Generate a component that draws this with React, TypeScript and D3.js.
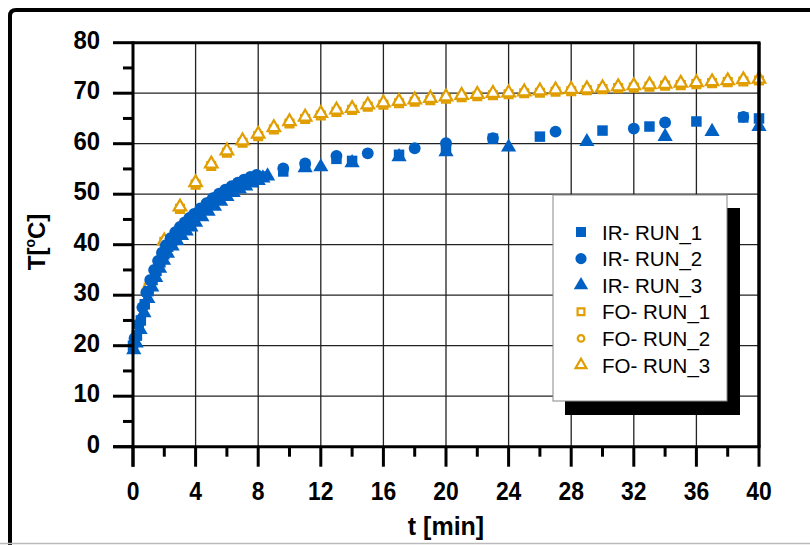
import React from "react";
import * as d3 from "d3";

// ---------- DATA ----------
const X_TICKS = [0, 4, 8, 12, 16, 20, 24, 28, 32, 36, 40];
const Y_TICKS = [0, 10, 20, 30, 40, 50, 60, 70, 80];

const IR_RUN_1_T = [0, 0.25, 0.5, 0.75, 1.0, 1.25, 1.5, 1.75, 2.0, 2.25, 2.5, 2.75, 3.0, 3.3, 3.6, 3.9, 4.2, 4.6, 5.0, 5.4, 5.8, 6.2, 6.6, 7.0, 7.4, 7.8, 8.2, 9.6, 11, 13, 14, 17, 20, 23, 26, 30, 33, 36, 39, 40];
const IR_RUN_1_V = [20, 22, 25, 28.2, 30.8, 33, 34.8, 36.5, 38.1, 39.6, 40.8, 41.8, 42.7, 43.6, 44.5, 45.3, 46.1, 47.1, 48.3, 49.3, 50.1, 50.9, 51.5, 52.2, 52.7, 53.1, 53.5, 54.5, 55.6, 57.0, 56.6, 57.8, 59.4, 61.0, 61.4, 62.6, 63.4, 64.4, 65.2, 65.0];

const IR_RUN_2_T = [0.1, 0.35, 0.6, 0.85, 1.1, 1.35, 1.6, 1.85, 2.1, 2.4, 2.7, 3.0, 3.3, 3.6, 3.9, 4.3, 4.7, 5.1, 5.5, 5.9, 6.3, 6.7, 7.1, 7.5, 7.9, 9.6, 11, 13, 15, 18, 20, 23, 27, 32, 34, 39];
const IR_RUN_2_V = [21.5, 24.2, 27.6, 30.5, 33, 35, 36.8, 38.4, 39.9, 41.3, 42.5, 43.5, 44.4, 45.3, 46.1, 47.2, 48.2, 49.2, 50.1, 50.9, 51.6, 52.3, 52.9, 53.4, 53.8, 55.1, 56.1, 57.6, 58.1, 59.1, 60.1, 61.1, 62.4, 63.0, 64.2, 65.3];

const IR_RUN_3_T = [0.05, 0.2, 0.45, 0.7, 0.95, 1.2, 1.45, 1.7, 1.95, 2.2, 2.5, 2.8, 3.1, 3.4, 3.7, 4.0, 4.4, 4.8, 5.2, 5.6, 6.0, 6.4, 6.8, 7.2, 7.6, 8.0, 8.3, 8.6, 11, 12, 14, 17, 20, 24, 29, 34, 37, 40];
const IR_RUN_3_V = [19.2, 20.5, 23.2, 26.5, 29.3, 31.6, 33.5, 35.3, 36.9, 38.3, 39.7, 40.8, 41.8, 42.7, 43.5, 44.4, 45.5, 46.6, 47.6, 48.6, 49.5, 50.3, 51, 51.6, 52.2, 52.7, 53.2, 53.6, 55.2, 55.4, 56.2, 57.4, 58.4, 59.3, 60.4, 61.4, 62.4, 63.4];

const FO_T = [1, 2, 3, 4, 5, 6, 7, 8, 9, 10, 11, 12, 13, 14, 15, 16, 17, 18, 19, 20, 21, 22, 23, 24, 25, 26, 27, 28, 29, 30, 31, 32, 33, 34, 35, 36, 37, 38, 39, 40];
const FO_RUN_1_V = [31.5, 40.6, 47.1, 51.9, 55.6, 58.2, 60.2, 61.5, 62.8, 64.0, 64.9, 65.6, 66.3, 66.7, 67.3, 67.7, 68.0, 68.3, 68.6, 68.9, 69.2, 69.4, 69.6, 69.8, 70.0, 70.1, 70.3, 70.4, 70.6, 70.8, 71.0, 71.1, 71.3, 71.5, 71.6, 71.8, 72.0, 72.2, 72.3, 72.5];
const FO_RUN_2_V = [31.6, 40.7, 47.3, 52.1, 55.8, 58.4, 60.4, 61.7, 63.0, 64.2, 65.1, 65.8, 66.5, 66.9, 67.5, 67.9, 68.2, 68.5, 68.8, 69.1, 69.4, 69.6, 69.8, 70.0, 70.1, 70.3, 70.5, 70.6, 70.8, 71.0, 71.1, 71.3, 71.5, 71.6, 71.8, 72.0, 72.1, 72.3, 72.5, 72.6];
const FO_RUN_3_V = [31.8, 40.8, 47.5, 52.3, 56, 58.6, 60.6, 61.9, 63.2, 64.4, 65.3, 66, 66.7, 67, 67.7, 68.1, 68.4, 68.7, 69, 69.3, 69.6, 69.8, 70, 70.1, 70.3, 70.5, 70.7, 70.8, 70.9, 71.1, 71.3, 71.5, 71.7, 71.8, 72, 72.1, 72.3, 72.5, 72.7, 72.8];

const LEGEND_LABELS = ["IR- RUN_1", "IR- RUN_2", "IR- RUN_3", "FO- RUN_1", "FO- RUN_2", "FO- RUN_3"];

// ---------- STYLE ----------
const BLUE = "#0060C4";
const ORANGE = "#E09E00";
const FONT = "'Liberation Sans', Arial, sans-serif";

const W = 810;
const H = 545;
const PL = 133, PR = 759, PT = 42.7, PB = 446.7;

const x = d3.scaleLinear().domain([0, 40]).range([PL, PR]);
const y = d3.scaleLinear().domain([0, 80]).range([PB, PT]);

type Spec = { type: d3.SymbolType; size: number; filled: boolean; color: string };

const SPECS: Spec[] = [
  { type: d3.symbolSquare, size: 110, filled: true, color: BLUE },
  { type: d3.symbolCircle, size: 110, filled: true, color: BLUE },
  { type: d3.symbolTriangle, size: 100, filled: true, color: BLUE },
  { type: d3.symbolSquare, size: 62, filled: false, color: ORANGE },
  { type: d3.symbolCircle, size: 45, filled: false, color: ORANGE },
  { type: d3.symbolTriangle, size: 68, filled: false, color: ORANGE },
];

function Marker({ spec, cx, cy, scale = 1 }: { spec: Spec; cx: number; cy: number; scale?: number }) {
  const d = d3.symbol().type(spec.type).size(spec.size * scale)() as string;
  return (
    <path
      d={d}
      transform={`translate(${cx},${cy})`}
      fill={spec.filled ? spec.color : "#fff"}
      stroke={spec.filled ? "none" : spec.color}
      strokeWidth={spec.filled ? 0 : 2.2}
    />
  );
}

function Series({ ts, vs, spec }: { ts: number[]; vs: number[]; spec: Spec }) {
  return (
    <g>
      {ts.map((t, i) => (
        <Marker key={i} spec={spec} cx={x(t)} cy={y(vs[i])} />
      ))}
    </g>
  );
}

export default function App() {
  const xMinor = d3.range(0, 41, 2);
  const yMinor = d3.range(0, 81, 5);
  const legX = 553, legY = 195, legW = 174, legH = 206;
  const rowY = (i: number) => 232 + i * 26.6;

  return (
    <svg
      width={W}
      height={H}
      viewBox={`0 0 ${W} ${H}`}
      style={{ position: "absolute", left: 0, top: 0, background: "#fff" }}
    >
      <rect x={0} y={0} width={W} height={H} fill="#fff" />
      {/* outer frame */}
      <path d={`M10,${H} L10,16 Q10,10 16,10 L${W + 5},10`} fill="none" stroke="#000" strokeWidth={4} />
      <line x1={0} x2={W} y1={543.5} y2={543.5} stroke="#bbb" strokeWidth={1.5} />

      {/* grid */}
      <g stroke="#222" strokeWidth={1.3}>
        {X_TICKS.slice(1, -1).map((t) => (
          <line key={"gx" + t} x1={x(t)} x2={x(t)} y1={PT} y2={PB} />
        ))}
        {Y_TICKS.slice(1, -1).map((v) => (
          <line key={"gy" + v} x1={PL} x2={PR} y1={y(v)} y2={y(v)} />
        ))}
      </g>

      {/* data */}
      <Series ts={FO_T} vs={FO_RUN_1_V} spec={SPECS[3]} />
      <Series ts={FO_T} vs={FO_RUN_2_V} spec={SPECS[4]} />
      <Series ts={FO_T} vs={FO_RUN_3_V} spec={SPECS[5]} />
      <Series ts={IR_RUN_1_T} vs={IR_RUN_1_V} spec={SPECS[0]} />
      <Series ts={IR_RUN_2_T} vs={IR_RUN_2_V} spec={SPECS[1]} />
      <Series ts={IR_RUN_3_T} vs={IR_RUN_3_V} spec={SPECS[2]} />

      {/* plot border */}
      <line x1={PL} x2={PR + 1.5} y1={PT} y2={PT} stroke="#000" strokeWidth={3} />
      <line x1={PR} x2={PR} y1={PT} y2={PB} stroke="#000" strokeWidth={3.5} />

      {/* axes */}
      <g stroke="#000" strokeWidth={3}>
        <line x1={PL} x2={PL} y1={PT - 1.5} y2={PB + 20} />
        <line x1={PL - 20} x2={PR + 1.5} y1={PB} y2={PB} />
        {xMinor.map((t) => (
          <line key={"tx" + t} x1={x(t)} x2={x(t)} y1={PB} y2={PB + (t % 4 === 0 ? 20 : 10)} />
        ))}
        {yMinor.map((v) => (
          <line key={"ty" + v} x1={PL - (v % 10 === 0 ? 20 : 10)} x2={PL} y1={y(v)} y2={y(v)} />
        ))}
      </g>

      {/* tick labels */}
      <g fontFamily={FONT} fontWeight="bold" fontSize={26} fill="#000">
        {X_TICKS.map((t) => (
          <g key={"lx" + t} transform={`translate(${x(t)},500) scale(0.88,1)`}>
            <text textAnchor="middle">{t}</text>
          </g>
        ))}
        {Y_TICKS.map((v) => (
          <g key={"ly" + v} transform={`translate(100,${y(v) + 6}) scale(0.92,1)`}>
            <text textAnchor="end">{v}</text>
          </g>
        ))}
      </g>

      {/* axis titles */}
      <text x={x(20)} y={535} textAnchor="middle" fontFamily={FONT} fontWeight="bold" fontSize={25}>
        t [min]
      </text>
      <text
        transform={`translate(45,242) rotate(-90)`}
        textAnchor="middle"
        fontFamily={FONT}
        fontWeight="bold"
        fontSize={24}
      >
        T[<tspan fontSize={14} dy={-10}>o</tspan>
        <tspan dy={10}>C]</tspan>
      </text>

      {/* legend */}
      <rect x={legX + 12} y={legY + 13} width={legW + 1} height={legH + 1} fill="#000" />
      <rect x={legX} y={legY} width={legW} height={legH} fill="#fff" stroke="#888" strokeWidth={1} />
      {LEGEND_LABELS.map((lab, i) => (
        <g key={lab}>
          <Marker spec={SPECS[i]} cx={581} cy={rowY(i)} scale={i < 3 ? 0.9 : 0.75} />
          <text x={602} y={rowY(i) + 7.5} fontFamily={FONT} fontSize={20.5} fill="#000">
            {lab}
          </text>
        </g>
      ))}
    </svg>
  );
}
